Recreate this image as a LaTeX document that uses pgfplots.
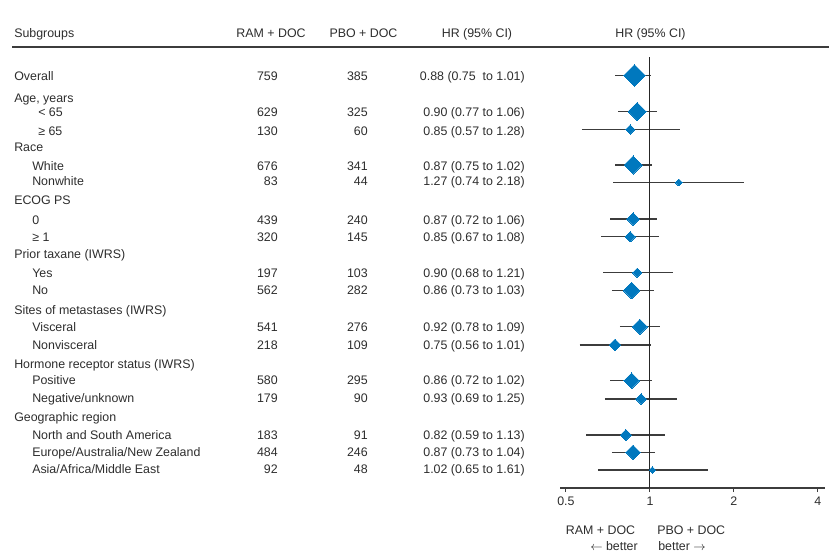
\documentclass[border=0pt]{standalone}
\usepackage{pgfplots}
\pgfplotsset{compat=1.18}
\usepackage{fontspec}
\setmainfont{Liberation Sans}
\definecolor{hrblue}{RGB}{0,120,190}
\definecolor{txt}{RGB}{45,45,45}
\definecolor{cig}{RGB}{60,60,60}
\newcommand{\fs}{\fontsize{9.3}{11}\selectfont}
\newcommand{\grp}[2]{\node[anchor=base west] at (14,#1+4.3) {#2};}
\newcommand{\row}[6]{%
  \node[anchor=base west] at (#2,#1+4.3) {#3};
  \node[anchor=base east] at (278,#1+4.3) {#4};
  \node[anchor=base east] at (368,#1+4.3) {#5};
  \node[anchor=base east] at (525,#1+4.3) {#6};}
\begin{document}
\begin{tikzpicture}
\begin{scope}[x=0.75pt,y=-0.75pt,font=\fs,every node/.style={text=txt,inner sep=0pt}]
\useasboundingbox (0,0) rectangle (829,558);
% header
\node[anchor=base west] at (14,37.3) {Subgroups};
\node[anchor=base] at (271,37.3) {RAM + DOC};
\node[anchor=base] at (363.5,37.3) {PBO + DOC};
\node[anchor=base] at (477,37.3) {HR (95\% CI)};
\node[anchor=base] at (650.5,37.3) {HR (95\% CI)};
\draw[cig,line width=0.8pt] (12,47) -- (829,47);
% rows
\row{76.5}{14}{Overall}{759}{385}{0.88 (0.75\ \ to 1.01)}
\grp{98}{Age, years}
\row{112.5}{38}{< 65}{629}{325}{0.90 (0.77 to 1.06)}
\row{131}{38}{≥ 65}{130}{60}{0.85 (0.57 to 1.28)}
\grp{147}{Race}
\row{166}{32}{White}{676}{341}{0.87 (0.75 to 1.02)}
\row{181.5}{32}{Nonwhite}{83}{44}{1.27 (0.74 to 2.18)}
\grp{200}{ECOG PS}
\row{220}{32}{0}{439}{240}{0.87 (0.72 to 1.06)}
\row{237}{32}{≥ 1}{320}{145}{0.85 (0.67 to 1.08)}
\grp{254}{Prior taxane (IWRS)}
\row{273}{32}{Yes}{197}{103}{0.90 (0.68 to 1.21)}
\row{290}{32}{No}{562}{282}{0.86 (0.73 to 1.03)}
\grp{310.5}{Sites of metastases (IWRS)}
\row{327.5}{32}{Visceral}{541}{276}{0.92 (0.78 to 1.09)}
\row{345}{32}{Nonvisceral}{218}{109}{0.75 (0.56 to 1.01)}
\grp{364}{Hormone receptor status (IWRS)}
\row{380}{32}{Positive}{580}{295}{0.86 (0.72 to 1.02)}
\row{398.5}{32}{Negative/unknown}{179}{90}{0.93 (0.69 to 1.25)}
\grp{417.5}{Geographic region}
\row{435.5}{32}{North and South America}{183}{91}{0.82 (0.59 to 1.13)}
\row{452}{32}{Europe/Australia/New Zealand}{484}{246}{0.87 (0.73 to 1.04)}
\row{469}{32}{Asia/Africa/Middle East}{92}{48}{1.02 (0.65 to 1.61)}
% bottom
\node[anchor=base] at (600.5,534.3) {RAM + DOC};
\node[anchor=base west] at (657,534.3) {PBO + DOC};
\node[anchor=base east] at (638,550.3) {$\leftarrow$ better};
\node[anchor=base west] at (658,550.3) {better $\rightarrow$};
\end{scope}
\begin{axis}[
  at={(420pt,-366pt)}, anchor=south west,
  scale only axis, width=198.75pt, height=323.25pt,
  xmode=log, log basis x=2,
  xmin=0.476, xmax=4.24, ymin=-488, ymax=-57,
  axis x line*=bottom, axis y line=none,
  xtick={0.5,1,2,4}, xticklabels={0.5,1,2,4}, minor xtick={},
  tick align=outside, major tick length=3pt,
  every tick/.style={cig,line width=0.8pt},
  axis line style={cig,line width=0.8pt},
  xticklabel style={font=\fs,text=txt},
  clip=false,
]
\addplot[cig,line width=0.8pt] coordinates {(0.75,-75.5) (1.01,-75.5)};
\addplot[cig,line width=0.8pt] coordinates {(0.77,-111.5) (1.06,-111.5)};
\addplot[cig,line width=0.8pt] coordinates {(0.57,-129.5) (1.28,-129.5)};
\addplot[cig,line width=0.8pt] coordinates {(0.75,-165) (1.02,-165)};
\addplot[cig,line width=0.8pt] coordinates {(0.74,-182.5) (2.18,-182.5)};
\addplot[cig,line width=0.8pt] coordinates {(0.72,-219) (1.06,-219)};
\addplot[cig,line width=0.8pt] coordinates {(0.67,-236.7) (1.08,-236.7)};
\addplot[cig,line width=0.8pt] coordinates {(0.68,-272.7) (1.21,-272.7)};
\addplot[cig,line width=0.8pt] coordinates {(0.73,-290.5) (1.03,-290.5)};
\addplot[cig,line width=0.8pt] coordinates {(0.78,-326.7) (1.09,-326.7)};
\addplot[cig,line width=0.8pt] coordinates {(0.56,-345) (1.01,-345)};
\addplot[cig,line width=0.8pt] coordinates {(0.72,-380.7) (1.02,-380.7)};
\addplot[cig,line width=0.8pt] coordinates {(0.69,-399) (1.25,-399)};
\addplot[cig,line width=0.8pt] coordinates {(0.59,-435) (1.13,-435)};
\addplot[cig,line width=0.8pt] coordinates {(0.73,-452.3) (1.04,-452.3)};
\addplot[cig,line width=0.8pt] coordinates {(0.65,-470) (1.61,-470)};
\addplot[black!85,line width=0.8pt] coordinates {(1,-57) (1,-488)};
\addplot[scatter, only marks, mark=square*,
  scatter/use mapped color={draw=hrblue,fill=hrblue},
  visualization depends on={\thisrow{s}\as\msz},
  scatter/@pre marker code/.append style={/tikz/mark size=\msz},
  mark options={rotate=45,line width=0pt}]
  table[x=hr,y=y] {
y hr s
-75.5 0.88 5.8
-111.5 0.90 4.8
-129.5 0.85 2.4
-165 0.87 4.8
-182.5 1.27 1.85
-219 0.87 3.35
-236.7 0.85 2.75
-272.7 0.90 2.4
-290.5 0.86 4.4
-326.7 0.92 4.0
-345 0.75 3.1
-380.7 0.86 4.1
-399 0.93 2.8
-435 0.82 2.9
-452.3 0.87 3.8
-470 1.02 1.75
};
\end{axis}
\end{tikzpicture}
\end{document}
